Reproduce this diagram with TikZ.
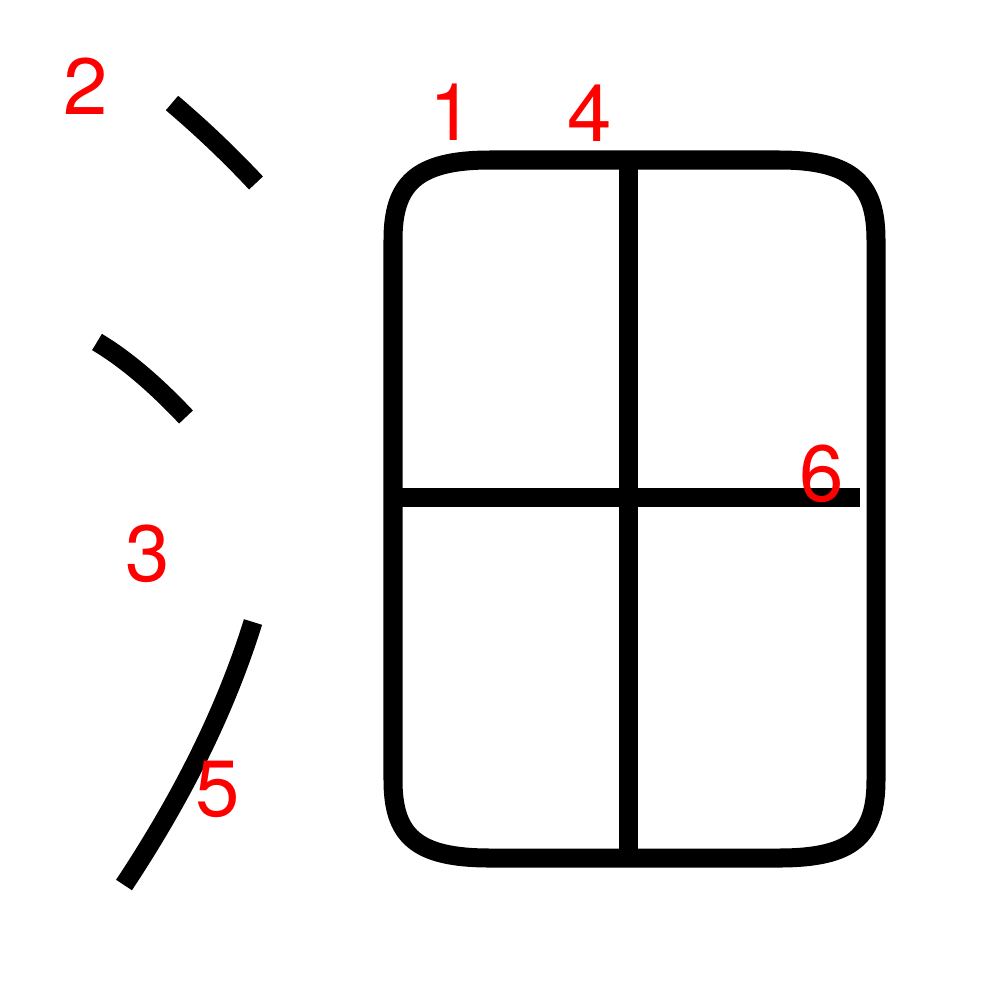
\documentclass[tikz,border=0pt]{standalone}
\usepackage{fontspec}
\setmainfont{TeX Gyre Heros}
\usepackage{xcolor}
\usepackage{tikz}

\begin{document}
\begin{tikzpicture}[x=0.01cm, y=-0.01cm,
    brush/.style={line width=0.19cm, black, line cap=butt},
    strokenum/.style={red, inner sep=0pt, font=\fontsize{22.7}{27}\selectfont}]
    \useasboundingbox (0,0) rectangle (1000,1000);

    % Water radical: two dots and the rising stroke
    \draw[brush] (172,103) .. controls (199,126) and (227,152) .. (256,183);
    \draw[brush] (97,342) .. controls (124,358) and (154,383) .. (186,417);
    \draw[brush] (253,622) .. controls (226,709) and (183,796) .. (124,885);

    % Outer frame with rounded corners
    \draw[brush] (393,240) .. controls (393,185) and (415,160) .. (490,160)
      -- (779,160) .. controls (854,160) and (876,185) .. (876,240)
      -- (876,780) .. controls (876,835) and (854,858) .. (779,858)
      -- (490,858) .. controls (415,858) and (393,835) .. (393,780) -- cycle;

    % Inner cross
    \draw[brush] (628,160) -- (628,858);
    \draw[brush] (393,497) -- (860,497);

    % Stroke order numbers
    \node[strokenum] (n1) at (452,112) {1};
    \node[strokenum] (n2) at (86,86) {2};
    \node[strokenum] (n3) at (148,554) {3};
    \node[strokenum] (n4) at (590,113) {4};
    \node[strokenum] (n5) at (218,789) {5};
    \node[strokenum] (n6) at (822,474) {6};
\end{tikzpicture}
\end{document}
